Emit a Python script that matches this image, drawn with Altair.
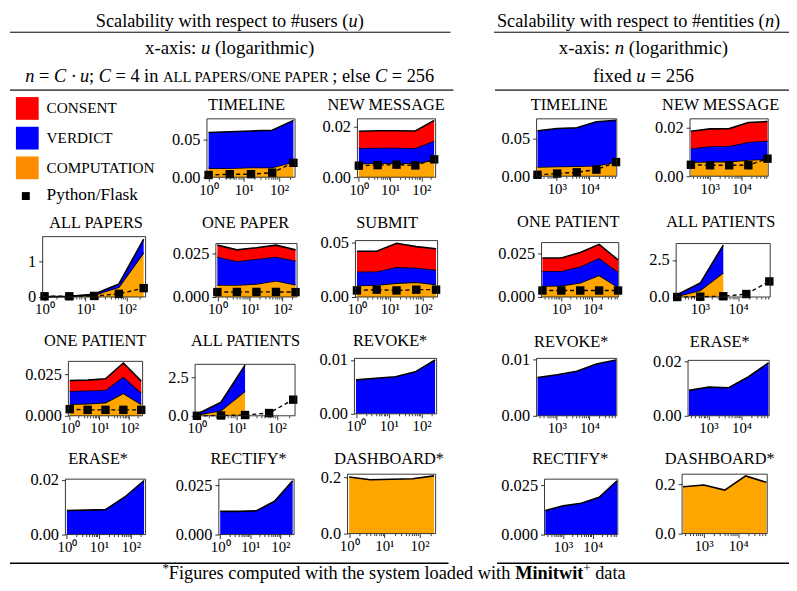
import altair as alt
import pandas as pd

FONT = "Liberation Serif"
W, H = 789, 580
OX, OY = 8, 8

# ---------------- data ----------------
U = [1, 4, 16, 64, 256]
N = [256, 1024, 4096, 16384, 65536]

SERIES = ["CONSENT", "VERDICT", "COMPUTATION"]
SERIES_COLORS = ["#FF0000", "#0000FF", "#FFA500"]
LEGEND_COLORS = ["#FF0000", "#0000FF", "#FF8C00"]
FLASK_LABEL = "Python/Flask"

# scalability w.r.t. #users (x = u)
TIMELINE_U_COMP = [0.012, 0.012, 0.013, 0.013, 0.020]
TIMELINE_U_VERD = [0.047, 0.048, 0.048, 0.049, 0.055]
TIMELINE_U_FLASK = [0.003, 0.004, 0.004, 0.006, 0.019]

NEWMSG_U_COMP = [0.0055, 0.0056, 0.0056, 0.0056, 0.0068]
NEWMSG_U_VERD = [0.0061, 0.0061, 0.0061, 0.0060, 0.0077]
NEWMSG_U_CONS = [0.0067, 0.0068, 0.0068, 0.0068, 0.0081]
NEWMSG_U_FLASK = [0.0046, 0.0048, 0.0050, 0.0047, 0.0071]

ALLPAPERS_U_COMP = [0.005, 0.015, 0.06, 0.28, 1.25]
ALLPAPERS_U_VERD = [0.005, 0.005, 0.02, 0.09, 0.38]
ALLPAPERS_U_FLASK = [0.02, 0.02, 0.03, 0.09, 0.25]

ONEPAPER_U_COMP = [0.0069, 0.0069, 0.0074, 0.0093, 0.0070]
ONEPAPER_U_VERD = [0.0161, 0.0135, 0.0143, 0.0137, 0.0137]
ONEPAPER_U_CONS = [0.0066, 0.0065, 0.0064, 0.0066, 0.0062]
ONEPAPER_U_FLASK = [0.0028, 0.0029, 0.0029, 0.0029, 0.0028]

SUBMIT_U_COMP = [0.0106, 0.0110, 0.0127, 0.0136, 0.0115]
SUBMIT_U_VERD = [0.0127, 0.0123, 0.0146, 0.0131, 0.0133]
SUBMIT_U_CONS = [0.0185, 0.0185, 0.0217, 0.0193, 0.0192]
SUBMIT_U_FLASK = [0.0060, 0.0067, 0.0060, 0.0067, 0.0067]

ONEPATIENT_U_COMP = [0.0070, 0.0074, 0.0080, 0.0136, 0.0070]
ONEPATIENT_U_VERD = [0.0080, 0.0080, 0.0076, 0.0100, 0.0070]
ONEPATIENT_U_CONS = [0.0064, 0.0062, 0.0068, 0.0084, 0.0070]
ONEPATIENT_U_FLASK = [0.0040, 0.0036, 0.0036, 0.0036, 0.0036]

ALLPATIENTS_U_COMP = [0.05, 0.35, 1.60]
ALLPATIENTS_U_VERD = [0.05, 0.53, 1.70]
ALLPATIENTS_U_FLASK = [0.0, 0.02, 0.05, 0.18, 1.05]

REVOKE_U_VERD = [0.0063, 0.0066, 0.0069, 0.0078, 0.0100]
ERASE_U_VERD = [0.0088, 0.0089, 0.0091, 0.0137, 0.0197]
RECTIFY_U_VERD = [0.0117, 0.0117, 0.0120, 0.0168, 0.0272]
DASHBOARD_U_COMP = [0.202, 0.192, 0.194, 0.196, 0.206]

# scalability w.r.t. #entities (x = n)
TIMELINE_N_COMP = [0.0123, 0.0130, 0.0133, 0.0140, 0.0190]
TIMELINE_N_VERD = [0.0487, 0.0510, 0.0517, 0.0590, 0.0560]
TIMELINE_N_FLASK = [0.0020, 0.0036, 0.0053, 0.0089, 0.0190]

NEWMSG_N_COMP = [0.0057, 0.0060, 0.0060, 0.0067, 0.0070]
NEWMSG_N_VERD = [0.0057, 0.0063, 0.0064, 0.0073, 0.0075]
NEWMSG_N_CONS = [0.0070, 0.0071, 0.0071, 0.0080, 0.0079]
NEWMSG_N_FLASK = [0.0047, 0.0045, 0.0045, 0.0045, 0.0072]

ONEPATIENT_N_COMP = [0.0063, 0.0065, 0.0081, 0.0124, 0.0056]
ONEPATIENT_N_VERD = [0.0085, 0.0083, 0.0093, 0.0098, 0.0087]
ONEPATIENT_N_CONS = [0.0074, 0.0074, 0.0080, 0.0078, 0.0068]
ONEPATIENT_N_FLASK = [0.0037, 0.0037, 0.0037, 0.0037, 0.0037]

ALLPATIENTS_N_COMP = [0.05, 0.45, 1.65]
ALLPATIENTS_N_VERD = [0.11, 0.49, 1.85]
ALLPATIENTS_N_FLASK = [0.0, 0.02, 0.05, 0.20, 1.05]

REVOKE_N_VERD = [0.0068, 0.0073, 0.0079, 0.0092, 0.0099]
ERASE_N_VERD = [0.0093, 0.0105, 0.0103, 0.0143, 0.0194]
RECTIFY_N_VERD = [0.0121, 0.0146, 0.0158, 0.0188, 0.0272]
DASHBOARD_N_COMP = [0.189, 0.196, 0.176, 0.233, 0.207]

# ---------------- panel layout (positions in page pixels) ----------------
PANELS = [
    # left section
    dict(title="TIMELINE", xs=U, comp=TIMELINE_U_COMP, verd=TIMELINE_U_VERD, flask=TIMELINE_U_FLASK,
         ymax=0.077, yt=[0, 0.05], fmt=".2f", frame=(209, 298, 117, 176), tx=249, ty=108),
    dict(title="NEW MESSAGE", xs=U, comp=NEWMSG_U_COMP, verd=NEWMSG_U_VERD, cons=NEWMSG_U_CONS,
         flask=NEWMSG_U_FLASK, ymax=0.0232, yt=[0, 0.02], fmt=".2f", frame=(361, 440, 117, 176), tx=390, ty=108),
    dict(title="ALL PAPERS", xs=U, comp=ALLPAPERS_U_COMP, verd=ALLPAPERS_U_VERD, flask=ALLPAPERS_U_FLASK,
         ymax=1.7, yt=[0, 1], fmt=".0f", frame=(43, 147, 236, 297), tx=97, ty=227),
    dict(title="ONE PAPER", xs=U, comp=ONEPAPER_U_COMP, verd=ONEPAPER_U_VERD, cons=ONEPAPER_U_CONS,
         flask=ONEPAPER_U_FLASK, ymax=0.0305, yt=[0, 0.025], fmt=".3f", frame=(218, 300, 243, 297), tx=248, ty=227),
    dict(title="SUBMIT", xs=U, comp=SUBMIT_U_COMP, verd=SUBMIT_U_VERD, cons=SUBMIT_U_CONS,
         flask=SUBMIT_U_FLASK, ymax=0.0515, yt=[0, 0.05], fmt=".2f", frame=(359, 442, 240, 297), tx=391, ty=227),
    dict(title="ONE PATIENT", xs=U, comp=ONEPATIENT_U_COMP, verd=ONEPATIENT_U_VERD, cons=ONEPATIENT_U_CONS,
         flask=ONEPATIENT_U_FLASK, ymax=0.033, yt=[0, 0.025], fmt=".3f", frame=(69, 144, 362, 417), tx=96, ty=346),
    dict(title="ALL PATIENTS", xs=U, comp=ALLPATIENTS_U_COMP, verd=ALLPATIENTS_U_VERD,
         flask=ALLPATIENTS_U_FLASK, ymax=3.35, yt=[0, 2.5], fmt=".1f", frame=(197, 298, 365, 417), tx=248, ty=346),
    dict(title="REVOKE*", xs=U, verd=REVOKE_U_VERD,
         ymax=0.0103, yt=[0, 0.01], fmt=".2f", frame=(358, 441, 359, 415), tx=394, ty=346),
    dict(title="ERASE*", xs=U, verd=ERASE_U_VERD,
         ymax=0.0202, yt=[0, 0.02], fmt=".2f", frame=(66, 147, 481, 537), tx=99, ty=466),
    dict(title="RECTIFY*", xs=U, verd=RECTIFY_U_VERD,
         ymax=0.028, yt=[0, 0.025], fmt=".3f", frame=(221, 297, 481, 537), tx=251, ty=466),
    dict(title="DASHBOARD*", xs=U, comp=DASHBOARD_U_COMP,
         ymax=0.212, yt=[0, 0.2], fmt=".1f", frame=(351, 440, 476, 536), tx=393, ty=466),
    # right section
    dict(title="TIMELINE", xs=N, comp=TIMELINE_N_COMP, verd=TIMELINE_N_VERD, flask=TIMELINE_N_FLASK,
         ymax=0.077, yt=[0, 0.05], fmt=".2f", frame=(542, 623, 117, 175), tx=575, ty=108),
    dict(title="NEW MESSAGE", xs=N, comp=NEWMSG_N_COMP, verd=NEWMSG_N_VERD, cons=NEWMSG_N_CONS,
         flask=NEWMSG_N_FLASK, ymax=0.0235, yt=[0, 0.02], fmt=".2f", frame=(697, 776, 117, 175), tx=728, ty=108),
    dict(title="ONE PATIENT", xs=N, comp=ONEPATIENT_N_COMP, verd=ONEPATIENT_N_VERD, cons=ONEPATIENT_N_CONS,
         flask=ONEPATIENT_N_FLASK, ymax=0.031, yt=[0, 0.025], fmt=".3f", frame=(547, 625, 242, 297), tx=574, ty=226),
    dict(title="ALL PATIENTS", xs=N, comp=ALLPATIENTS_N_COMP, verd=ALLPATIENTS_N_VERD,
         flask=ALLPATIENTS_N_FLASK, ymax=3.6, yt=[0, 2.5], fmt=".1f", frame=(683, 778, 243, 297), tx=728, ty=226),
    dict(title="REVOKE*", xs=N, verd=REVOKE_N_VERD,
         ymax=0.0102, yt=[0, 0.01], fmt=".2f", frame=(542, 623, 359, 417), tx=577, ty=347),
    dict(title="ERASE*", xs=N, verd=ERASE_N_VERD,
         ymax=0.0203, yt=[0, 0.02], fmt=".2f", frame=(695, 777, 361, 417), tx=727, ty=347),
    dict(title="RECTIFY*", xs=N, verd=RECTIFY_N_VERD,
         ymax=0.028, yt=[0, 0.025], fmt=".3f", frame=(550, 624, 481, 537), tx=576, ty=466),
    dict(title="DASHBOARD*", xs=N, comp=DASHBOARD_N_COMP,
         ymax=0.24, yt=[0, 0.2], fmt=".1f", frame=(689, 775, 476, 536), tx=727, ty=466),
]

ONE = pd.DataFrame({"k": [0]})
SUP = {1: "10\u2070", 10: "10\u00b9", 100: "10\u00b2", 1000: "10\u00b3", 10000: "10\u2074"}
LABEL_EXPR = " : ".join(f"datum.value == {k} ? '{v}'" for k, v in SUP.items()) + " : ''"
MAJOR_TEST = "indexof([1, 10, 100, 1000, 10000], datum.value) >= 0"
XTICK_FS = 15
YTICK_FS = 16.5


def make_panel(p):
    l, r, t, b = p["frame"]
    xs = p["xs"]
    if xs is U:
        xdom = [0.9, 285.0]
        ticks = [1, 10, 100] + [2, 3, 4, 5, 6, 7, 8, 9] + [20, 30, 40, 50, 60, 70, 80, 90, 200]
    else:
        xdom = [240.0, 69000.0]
        ticks = [1000, 10000] + [300, 400, 500, 600, 700, 800, 900] + \
                [2000, 3000, 4000, 5000, 6000, 7000, 8000, 9000] + [20000, 30000, 40000, 50000, 60000]
    xscale = alt.Scale(type="log", domain=xdom, range=[l - OX, r - OX], nice=False)
    yscale = alt.Scale(domain=[0, p["ymax"]], range=[b - OY, t - OY], nice=False, zero=True)
    xaxis = alt.Axis(orient="bottom", offset=(b - OY) - H, values=ticks, labelExpr=LABEL_EXPR,
                     tickSize={"condition": {"test": MAJOR_TEST, "value": 4}, "value": 2},
                     labelFlush=False, labelOverlap=False, grid=False, domain=False, title=None,
                     labelFont=FONT, labelFontSize=XTICK_FS, labelPadding=1, tickColor="black",
                     labelColor="black", tickWidth=0.8)
    yaxis = alt.Axis(orient="left", offset=-(l - OX), values=p["yt"], format=p["fmt"], tickSize=4,
                     labelFlush=False, labelOverlap=False, grid=False, domain=False, title=None,
                     labelFont=FONT, labelFontSize=YTICK_FS, labelPadding=3, tickColor="black",
                     labelColor="black", tickWidth=0.8)

    layers = []
    comps = [("comp", SERIES_COLORS[2]), ("verd", SERIES_COLORS[1]), ("cons", SERIES_COLORS[0])]
    present = [(k, c) for k, c in comps if k in p]
    n = len(p[present[0][0]])
    base = [0.0] * n
    for k, c in present:
        top = [bv + v for bv, v in zip(base, p[k])]
        df = pd.DataFrame({"x": xs[:n], "lo": base, "hi": top})
        layers.append(
            alt.Chart(df).mark_area(color=c, opacity=1,
                                    line={"color": "black", "strokeWidth": 1.6}).encode(
                x=alt.X("x:Q", scale=xscale, axis=xaxis),
                y=alt.Y("hi:Q", scale=yscale, axis=yaxis),
                y2="lo:Q",
            )
        )
        base = top
    if "flask" in p:
        fdf = pd.DataFrame({"x": xs, "y": p["flask"]})
        layers.append(
            alt.Chart(fdf).mark_line(color="black", strokeWidth=1.4, strokeDash=[4, 3]).encode(
                x=alt.X("x:Q", scale=xscale, axis=xaxis),
                y=alt.Y("y:Q", scale=yscale, axis=yaxis),
            )
        )
        layers.append(
            alt.Chart(fdf).mark_square(color="black", size=72, opacity=1).encode(
                x=alt.X("x:Q", scale=xscale, axis=xaxis),
                y=alt.Y("y:Q", scale=yscale, axis=yaxis),
            )
        )
    frame = alt.Chart(ONE).mark_rect(fillOpacity=0, stroke="#222222", strokeWidth=0.9).encode(
        x=alt.XDatum(xdom[0], type="quantitative", scale=xscale, axis=xaxis),
        x2=alt.X2Datum(xdom[1]),
        y=alt.YDatum(0, type="quantitative", scale=yscale, axis=yaxis),
        y2=alt.Y2Datum(p["ymax"]),
    )
    layers.append(frame)
    return alt.layer(*layers)


# ---------------- text helpers ----------------
REG = {' ': 250, '#': 500, '(': 333, ')': 333, '*': 500, '+': 564, ',': 250, '-': 333, '.': 250,
       '/': 278, ':': 278, ';': 278, '=': 564, '\u00b7': 250,
       'A': 722, 'B': 667, 'C': 667, 'D': 722, 'E': 611, 'F': 556, 'G': 722, 'H': 722, 'I': 333,
       'J': 389, 'K': 722, 'L': 611, 'M': 889, 'N': 722, 'O': 722, 'P': 556, 'Q': 722, 'R': 667,
       'S': 556, 'T': 611, 'U': 722, 'V': 722, 'W': 944, 'X': 722, 'Y': 722, 'Z': 611,
       'a': 444, 'b': 500, 'c': 444, 'd': 500, 'e': 444, 'f': 333, 'g': 500, 'h': 500, 'i': 278,
       'j': 278, 'k': 500, 'l': 278, 'm': 778, 'n': 500, 'o': 500, 'p': 500, 'q': 500, 'r': 333,
       's': 389, 't': 278, 'u': 500, 'v': 500, 'w': 722, 'x': 500, 'y': 500, 'z': 444}
BOLD = {'M': 944, 'i': 278, 'n': 556, 't': 333, 'w': 722}
SC = 0.8


def seg_w(s, style, size):
    tot = 0
    for ch in s:
        w = REG.get(ch, 500)
        if style == "b":
            w = BOLD.get(ch, w)
        tot += w
    if style == "sup":
        return tot / 1000 * size * 0.7
    if style == "sc":
        return tot / 1000 * size * SC
    return tot / 1000 * size


def rich(segments, cx, y, size=19):
    total = sum(seg_w(s, st, size) for s, st in segments)
    x = cx - total / 2
    out = []
    for s, st in segments:
        kw = dict(align="left", baseline="alphabetic", font=FONT, fontSize=size, color="black")
        yy = y
        if st == "i":
            kw["fontStyle"] = "italic"
        elif st == "b":
            kw["fontWeight"] = "bold"
        elif st == "sc":
            kw["fontSize"] = size * SC
        elif st == "sup":
            kw["fontSize"] = size * 0.7
            yy = y - size * 0.38
        body = s.strip(" ")
        lead = len(s) - len(s.lstrip(" "))
        xx = x + seg_w(" " * lead, st, size)
        out.append(alt.Chart(ONE).mark_text(text=body, **kw).encode(
            x=alt.value(xx - OX), y=alt.value(yy - OY)))
        x += seg_w(s, st, size)
    return out


def hrule(x1, x2, y, w=1.0, color="black"):
    return alt.Chart(ONE).mark_rule(color=color, strokeWidth=w).encode(
        x=alt.value(x1 - OX), x2=alt.value(x2 - OX), y=alt.value(y - OY))


deco = []
# headers
deco += rich([("Scalability with respect to #users (", "r"), ("u", "i"), (")", "r")], 232, 24.5, size=18.5)
deco += rich([("x-axis: ", "r"), ("u", "i"), (" (logarithmic)", "r")], 232, 52)
deco += rich([("n", "i"), (" = ", "r"), ("C", "i"), (" \u00b7 ", "r"), ("u", "i"), ("; ", "r"), ("C", "i"),
              (" = 4 in ", "r"), ("ALL PAPERS/ONE PAPER", "sc"), ("; else ", "r"), ("C", "i"),
              (" = 256", "r")], 232, 80, size=18.5)
deco += rich([("Scalability with respect to #entities (", "r"), ("n", "i"), (")", "r")], 645, 24.5, size=18.5)
deco += rich([("x-axis: ", "r"), ("n", "i"), (" (logarithmic)", "r")], 650, 52)
deco += rich([("fixed ", "r"), ("u", "i"), (" = 256", "r")], 650, 80)
deco += [hrule(10, 455, 29.5), hrule(10, 458, 88, 1.6, "#555555"),
         hrule(499, 797, 29.5), hrule(500, 797, 88, 1.6, "#555555"),
         hrule(10, 453, 566, 1.4), hrule(502, 797, 566, 1.4)]
# footer
deco += rich([("*", "sup"), ("Figures computed with the system loaded with ", "r"), ("Minitwit", "b"),
              ("+", "sup"), (" data", "r")], 398, 582, size=18.5)

# panel titles
titles_df = pd.DataFrame({"title": [p["title"] for p in PANELS],
                          "px": [p["tx"] - OX for p in PANELS],
                          "py": [p["ty"] - OY for p in PANELS]})
deco.append(alt.Chart(titles_df).mark_text(font=FONT, fontSize=16.5, baseline="alphabetic",
                                           align="center", color="black").encode(
    x=alt.X("px:Q", scale=None, axis=None), y=alt.Y("py:Q", scale=None, axis=None), text="title:N"))

# legend
LEG_Y = [106.5, 136.5, 166.5]
for name, col, yy in zip(SERIES, LEGEND_COLORS, LEG_Y):
    deco.append(alt.Chart(ONE).mark_square(color=col, size=529, opacity=1).encode(
        x=alt.value(27.5 - OX), y=alt.value(yy - OY)))
    deco.append(alt.Chart(ONE).mark_text(text=name, font=FONT, fontSize=15.4, align="left",
                                         baseline="alphabetic", color="black").encode(
        x=alt.value(47 - OX), y=alt.value(yy + 5 - OY)))
deco.append(alt.Chart(ONE).mark_square(color="black", size=64, opacity=1).encode(
    x=alt.value(26 - OX), y=alt.value(195 - OY)))
deco.append(alt.Chart(ONE).mark_text(text=FLASK_LABEL, font=FONT, fontSize=17.5, align="left",
                                     baseline="alphabetic", color="black").encode(
    x=alt.value(47 - OX), y=alt.value(199 - OY)))

panels = [make_panel(p) for p in PANELS]
chart = alt.layer(*panels, *deco).resolve_scale(x="independent", y="independent").properties(
    width=W, height=H, padding=0, autosize=alt.AutoSizeParams(type="none")
).configure_view(strokeWidth=0)

chart.save("out.html", embed_options={"renderer": "svg", "actions": False})
